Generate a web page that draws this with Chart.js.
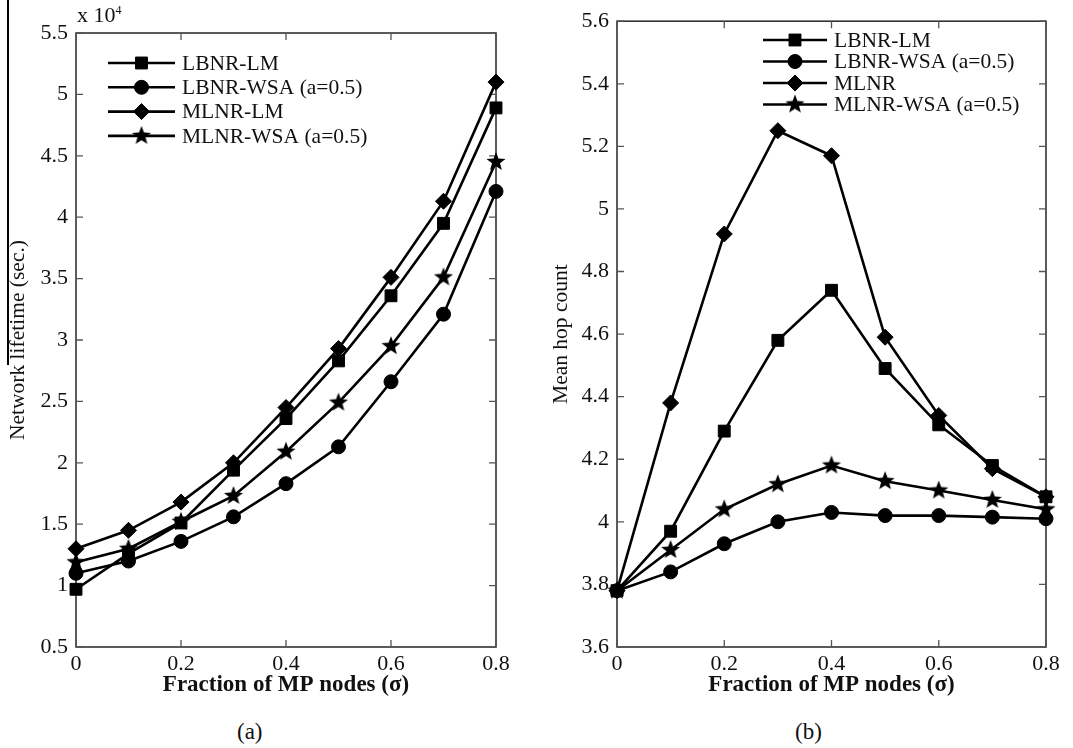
<!DOCTYPE html>
<html><head><meta charset="utf-8">
<script src="https://cdn.jsdelivr.net/npm/chart.js@4.4.1/dist/chart.umd.min.js"></script>
<style>
body{margin:0;background:#fff;width:1073px;height:748px;overflow:hidden;position:relative;font-family:"Liberation Serif",serif;color:#111;}
.box{position:absolute;top:0;height:700px;}
#wa{left:0;width:540px;}
#wb{left:540px;width:533px;}
.cap{position:absolute;font-size:23px;color:#111;white-space:nowrap;}
</style></head><body>
<div id="wa" class="box"><canvas id="ca"></canvas></div>
<div id="wb" class="box"><canvas id="cb"></canvas></div>
<div class="cap" style="left:77px;top:2px;font-size:22px">x 10<sup style="font-size:12px">4</sup></div>
<div class="cap" style="left:237px;top:719px">(a)</div>
<div class="cap" style="left:795px;top:719px">(b)</div>
<div style="position:absolute;left:7px;top:0;width:2px;height:365px;background:#000"></div>
<script>
// ---------- data ----------
const xValues = [0, 0.1, 0.2, 0.3, 0.4, 0.5, 0.6, 0.7, 0.8];
const xTicks = [0, 0.2, 0.4, 0.6, 0.8];
const namesA = ['LBNR-LM', 'LBNR-WSA (a=0.5)', 'MLNR-LM', 'MLNR-WSA (a=0.5)'];
const namesB = ['LBNR-LM', 'LBNR-WSA (a=0.5)', 'MLNR', 'MLNR-WSA (a=0.5)'];
// network lifetime (x 10^4 sec.)
const lifeLBNR_LM  = [0.97, 1.26, 1.51, 1.94, 2.36, 2.83, 3.36, 3.95, 4.89];
const lifeLBNR_WSA = [1.10, 1.20, 1.36, 1.56, 1.83, 2.13, 2.66, 3.21, 4.21];
const lifeMLNR_LM  = [1.30, 1.45, 1.68, 2.00, 2.45, 2.93, 3.51, 4.13, 5.10];
const lifeMLNR_WSA = [1.19, 1.30, 1.52, 1.73, 2.09, 2.49, 2.95, 3.51, 4.45];
// mean hop count
const hopLBNR_LM  = [3.78, 3.97, 4.29, 4.58, 4.74, 4.49, 4.31, 4.18, 4.08];
const hopLBNR_WSA = [3.78, 3.84, 3.93, 4.00, 4.03, 4.02, 4.02, 4.015, 4.01];
const hopMLNR     = [3.78, 4.38, 4.92, 5.25, 5.17, 4.59, 4.34, 4.17, 4.08];
const hopMLNR_WSA = [3.78, 3.91, 4.04, 4.12, 4.18, 4.13, 4.10, 4.07, 4.04];
const yTicksA = [0.5, 1, 1.5, 2, 2.5, 3, 3.5, 4, 4.5, 5, 5.5];
const yTicksB = [3.6, 3.8, 4, 4.2, 4.4, 4.6, 4.8, 5, 5.2, 5.4, 5.6];

// ---------- styling ----------
function makeStar(R) {
  const c = document.createElement('canvas');
  const s = Math.ceil(R * 2 + 2);
  c.width = s; c.height = s;
  const g = c.getContext('2d');
  g.fillStyle = '#000';
  g.beginPath();
  const r = R * 0.42;
  for (let i = 0; i < 10; i++) {
    const a = -Math.PI / 2 + i * Math.PI / 5;
    const rr = i % 2 === 0 ? R : r;
    const px = s / 2 + rr * Math.cos(a), py = s / 2 + rr * Math.sin(a);
    if (i === 0) g.moveTo(px, py); else g.lineTo(px, py);
  }
  g.closePath(); g.fill();
  return c;
}
const starImg = makeStar(10);
const markers = [
  {pointStyle: 'rect', pointRadius: 8.4},
  {pointStyle: 'circle', pointRadius: 7},
  {pointStyle: 'rectRot', pointRadius: 8},
  {pointStyle: starImg, pointRadius: 10}
];
const FONT = "'Liberation Serif', 'Times New Roman', serif";

function mkDatasets(names, arrays) {
  return names.map((n, i) => ({
    label: n,
    data: xValues.map((x, j) => ({x: x, y: arrays[i][j]})),
    borderColor: '#000', backgroundColor: '#000',
    pointBackgroundColor: '#000', pointBorderColor: '#000', pointBorderWidth: 1,
    borderWidth: 2.6, pointStyle: markers[i].pointStyle, pointRadius: markers[i].pointRadius,
    pointHoverRadius: markers[i].pointRadius, tension: 0, clip: false
  }));
}

const framePlugin = {
  id: 'mlFrame',
  beforeDatasetsDraw(chart) {
    const {ctx, chartArea: a, scales} = chart;
    ctx.save();
    ctx.strokeStyle = '#333'; ctx.lineWidth = 1.6;
    ctx.strokeRect(a.left, a.top, a.right - a.left, a.bottom - a.top);
    ctx.strokeStyle = '#555'; ctx.lineWidth = 1.3;
    const L = 7;
    ctx.beginPath();
    scales.x.ticks.forEach(t => {
      const px = scales.x.getPixelForValue(t.value);
      ctx.moveTo(px, a.bottom); ctx.lineTo(px, a.bottom - L);
      ctx.moveTo(px, a.top); ctx.lineTo(px, a.top + L);
    });
    scales.y.ticks.forEach(t => {
      const py = scales.y.getPixelForValue(t.value);
      ctx.moveTo(a.left, py); ctx.lineTo(a.left + L, py);
      ctx.moveTo(a.right, py); ctx.lineTo(a.right - L, py);
    });
    ctx.stroke();
    ctx.restore();
  },
  afterDraw(chart) {
    const o = chart.options.plugins.mlLegend;
    if (!o) return;
    const ctx = chart.ctx;
    ctx.save();
    chart.data.datasets.forEach((ds, i) => {
      const y = o.y0 + i * o.dy;
      ctx.strokeStyle = '#000'; ctx.lineWidth = 2.6;
      ctx.beginPath(); ctx.moveTo(o.x0, y); ctx.lineTo(o.x1, y); ctx.stroke();
      ctx.fillStyle = '#000'; ctx.strokeStyle = '#000'; ctx.lineWidth = 1;
      Chart.helpers.drawPoint(ctx, {pointStyle: ds.pointStyle, radius: ds.pointRadius, rotation: 0, borderWidth: 1}, (o.x0 + o.x1) / 2, y);
      ctx.fillStyle = '#111';
      ctx.font = '21.5px ' + FONT;
      ctx.textBaseline = 'middle'; ctx.textAlign = 'left';
      ctx.fillText(ds.label, o.tx, y + 1);
    });
    ctx.restore();
  }
};

function mkChart(id, names, arrays, yTicks, yTitle, pad, yw, legend, ytitlePad) {
  return new Chart(document.getElementById(id), {
    type: 'line',
    data: {datasets: mkDatasets(names, arrays)},
    plugins: [framePlugin],
    options: {
      responsive: true, maintainAspectRatio: false, animation: false,
      layout: {padding: pad},
      plugins: {legend: {display: false}, tooltip: {enabled: false}, mlLegend: legend},
      scales: {
        x: {
          type: 'linear', min: xTicks[0], max: xTicks[xTicks.length - 1],
          afterBuildTicks: s => { s.ticks = xTicks.map(v => ({value: v})); },
          afterFit: s => { s.height = 53; },
          grid: {display: false, drawTicks: false},
          border: {display: false},
          ticks: {color: '#111', padding: 4, font: {family: FONT, size: 22}, maxRotation: 0,
                  callback: v => String(v)},
          title: {display: true, text: 'Fraction of MP nodes (σ)', color: '#111',
                  font: {family: FONT, size: 23, weight: 'bold'}, padding: {top: 0, bottom: 1}}
        },
        y: {
          type: 'linear', min: yTicks[0], max: yTicks[yTicks.length - 1],
          afterBuildTicks: s => { s.ticks = yTicks.map(v => ({value: v})); },
          afterFit: s => { s.width = yw; },
          grid: {display: false, drawTicks: false},
          border: {display: false},
          ticks: {color: '#111', padding: 8, font: {family: FONT, size: 22}, callback: v => String(v)},
          title: {display: true, text: yTitle, color: '#111',
                  font: {family: FONT, size: 21.5}, padding: {top: ytitlePad, bottom: 0}}
        }
      }
    }
  });
}

mkChart('ca', namesA, [lifeLBNR_LM, lifeLBNR_WSA, lifeMLNR_LM, lifeMLNR_WSA], yTicksA,
  'Network lifetime (sec.)', {left: 0, right: 44, top: 33, bottom: 0}, 76,
  {x0: 108, x1: 175, tx: 182, y0: 63, dy: 24.3}, 5);
mkChart('cb', namesB, [hopLBNR_LM, hopLBNR_WSA, hopMLNR, hopMLNR_WSA], yTicksB,
  'Mean hop count', {left: 0, right: 27, top: 18, bottom: 0}, 77,
  {x0: 223, x1: 287, tx: 294, y0: 40, dy: 21.5}, 8);
</script>
</body></html>
